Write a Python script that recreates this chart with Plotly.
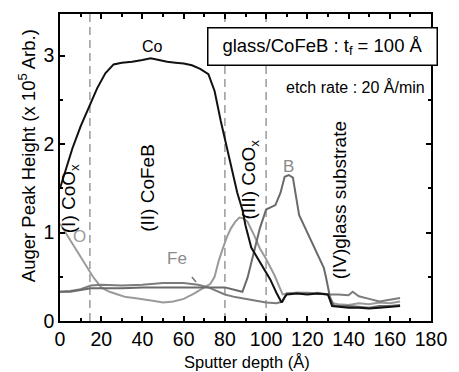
import plotly.graph_objects as go

# ---- data ----
co_depth = [0, 3, 6, 10, 14, 18, 22, 26, 30, 35, 40, 44, 48, 52, 56, 60, 64, 68, 72, 75, 78, 80, 83, 86,
            88.6, 90, 92.8, 96, 99, 102, 105, 107.5, 109, 110, 115, 120, 125, 130, 132, 135, 140, 145,
            150, 155, 160, 165]
co_val = [1.5, 1.72, 1.95, 2.2, 2.42, 2.63, 2.80, 2.90, 2.92, 2.93, 2.95, 2.97, 2.95, 2.93, 2.92, 2.91,
          2.89, 2.85, 2.79, 2.6, 2.26, 2.05, 1.75, 1.45, 1.25, 1.08, 0.83, 0.7, 0.58, 0.47, 0.32, 0.21,
          0.27, 0.3, 0.31, 0.3, 0.31, 0.3, 0.17, 0.16, 0.15, 0.15, 0.14, 0.15, 0.16, 0.17]

o_depth = [0, 4, 8, 12, 16, 20, 24, 28, 32, 36, 40, 45, 50, 55, 60, 65, 70, 73, 75, 77, 79, 81, 83, 85,
           87, 89, 91, 94, 97, 100, 104, 108, 110, 115, 120, 125, 130, 132, 135, 140, 145, 150, 155,
           160, 165]
o_val = [1.1, 0.95, 0.8, 0.65, 0.5, 0.38, 0.33, 0.3, 0.27, 0.26, 0.25, 0.23, 0.21, 0.22, 0.25, 0.31,
         0.38, 0.42, 0.5, 0.68, 0.82, 0.95, 1.05, 1.12, 1.17, 1.16, 1.12, 0.98, 0.82, 0.7, 0.52, 0.3,
         0.31, 0.32, 0.31, 0.32, 0.3, 0.2, 0.19, 0.18, 0.2, 0.19, 0.21, 0.2, 0.22]

fe_depth = [0, 5, 10, 15, 20, 30, 40, 50, 60, 67, 72, 76, 80, 85, 90, 95, 100, 105, 108, 110, 115, 120,
            125, 130, 135, 140, 142, 145, 150, 155, 160, 165]
fe_val = [0.33, 0.34, 0.36, 0.4, 0.41, 0.4, 0.41, 0.43, 0.43, 0.41, 0.38, 0.34, 0.3, 0.27, 0.25, 0.23,
          0.21, 0.2, 0.22, 0.31, 0.32, 0.32, 0.31, 0.3, 0.3, 0.29, 0.33, 0.28, 0.25, 0.22, 0.24, 0.26]

b_depth = [0, 5, 10, 15, 20, 30, 40, 50, 60, 70, 80, 85, 88.5, 91, 94, 97, 100, 102, 104.5, 107, 109,
           111, 113, 116, 118, 122, 125, 128, 129, 131, 133, 140, 145, 150, 155, 160, 165]
b_val = [0.33, 0.33, 0.35, 0.37, 0.37, 0.37, 0.38, 0.38, 0.38, 0.38, 0.38, 0.35, 0.33, 0.49, 0.78, 1.05,
         1.26, 1.28, 1.31, 1.45, 1.63, 1.65, 1.62, 1.2, 1.1, 0.9, 0.75, 0.6, 0.5, 0.27, 0.17, 0.17,
         0.16, 0.15, 0.17, 0.17, 0.18]

layer_bounds = [14.5, 80, 100]
x_ticks = [0, 20, 40, 60, 80, 100, 120, 140, 160, 180]
y_ticks = [0, 1, 2, 3]

FONT = "Liberation Sans, Arial, sans-serif"

fig = go.Figure()
fig.add_trace(go.Scatter(x=o_depth, y=o_val, mode="lines", line=dict(color="#9a9a9a", width=2), name="O"))
fig.add_trace(go.Scatter(x=fe_depth, y=fe_val, mode="lines", line=dict(color="#7c7c7c", width=2), name="Fe"))
fig.add_trace(go.Scatter(x=b_depth, y=b_val, mode="lines", line=dict(color="#6a6a6a", width=2), name="B"))
fig.add_trace(go.Scatter(x=co_depth, y=co_val, mode="lines", line=dict(color="#111111", width=2), name="Co"))

for b in layer_bounds:
    fig.add_shape(type="line", xref="x", yref="paper", x0=b, x1=b, y0=0, y1=1,
                  line=dict(color="#a0a0a0", width=1.6, dash="8px,5px"), layer="below")

ann = []
def txt(x, y, s, size=15, color="black", angle=0, **kw):
    ann.append(dict(x=x, y=y, xref="x", yref="y", text=s, showarrow=False, textangle=angle,
                    font=dict(family=FONT, size=size, color=color), **kw))

txt(45, 3.10, "Co", size=16)
txt(9.4, 0.96, "O", size=17, color="#9a9a9a")
txt(111, 1.75, "B", size=17, color="#8a8a8a")
txt(5.0, 1.38, "(I) CoO<sub>x</sub>", size=19, angle=-90)
txt(42.4, 1.51, "(II) CoFeB", size=19, angle=-90)
txt(92.2, 1.6, "(III) CoO<sub>x</sub>", size=19, angle=-90)
txt(135.7, 1.36, "(IV)glass substrate", size=19, angle=-90)
txt(143.5, 2.65, "etch rate : 20 Å/min", size=16)
ann.append(dict(x=127.3, y=3.10, xref="x", yref="y", text="glass/CoFeB : t<sub>f</sub> = 100 Å",
                showarrow=False, font=dict(family=FONT, size=18.5, color="black"),
                bordercolor="black", borderwidth=1.5, borderpad=5, bgcolor="white",
                width=218, height=26))
ann.append(dict(x=66, y=0.44, xref="x", yref="y", ax=56.6, ay=0.71, axref="x", ayref="y",
                text="Fe", showarrow=True, arrowhead=0, arrowwidth=1.6, arrowcolor="#7c7c7c",
                standoff=0, startstandoff=10,
                font=dict(family=FONT, size=17, color="#8a8a8a")))
# axis titles
ann.append(dict(x=0, y=0.537, xref="paper", yref="paper", xanchor="center", yanchor="middle",
                xshift=-33, textangle=-90, showarrow=False,
                text="Auger Peak Height (x 10<sup>5</sup> Arb.)",
                font=dict(family=FONT, size=18.5, color="black")))
ann.append(dict(x=0.505, y=0, xref="paper", yref="paper", xanchor="center", yanchor="middle",
                yshift=-41, showarrow=False, text="Sputter depth (Å)",
                font=dict(family=FONT, size=16.5, color="black")))

axis_common = dict(showline=True, linecolor="black", linewidth=1.5, mirror="ticks",
                   ticks="inside", tickcolor="black", tickwidth=1.5, ticklen=5,
                   showgrid=False, zeroline=False,
                   tickfont=dict(family=FONT, size=19.5, color="black"))

fig.update_layout(
    width=459, height=372,
    margin=dict(l=60, r=17, t=12, b=51),
    paper_bgcolor="white", plot_bgcolor="white",
    showlegend=False,
    annotations=ann,
    xaxis=dict(range=[0, 180], tickvals=x_ticks,
               minor=dict(tickvals=list(range(10, 180, 20)), ticks="inside", ticklen=3, tickcolor="black"),
               **axis_common),
    yaxis=dict(range=[0, 3.47], tickvals=y_ticks,
               minor=dict(tickvals=[0.5, 1.5, 2.5], ticks="inside", ticklen=3, tickcolor="black"),
               **axis_common),
)

fig.write_html("out.html")
